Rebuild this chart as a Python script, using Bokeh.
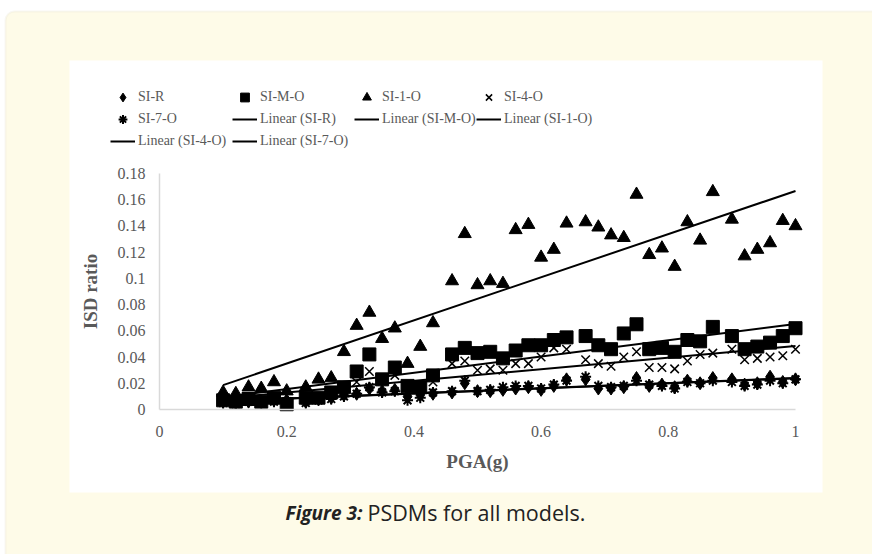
import numpy as np
from bokeh.plotting import figure
from bokeh.models import (Range1d, LinearAxis, FixedTicker, Legend, LegendItem,
                          BoxAnnotation, Label, ColumnDataSource)
from bokeh.embed import file_html
from bokeh.resources import INLINE

# ---------------- data ----------------
pga = [0.10, 0.12, 0.14, 0.16, 0.18, 0.20, 0.23, 0.25, 0.27, 0.29,
       0.31, 0.33, 0.35, 0.37, 0.39, 0.41, 0.43, 0.46, 0.48, 0.50,
       0.52, 0.54, 0.56, 0.58, 0.60, 0.62, 0.64, 0.67, 0.69, 0.71,
       0.73, 0.75, 0.77, 0.79, 0.81, 0.83, 0.85, 0.87, 0.90, 0.92,
       0.94, 0.96, 0.98, 1.00]

si_r = [0.006, 0.005, 0.006, 0.006, 0.007, 0.007, 0.006, 0.008, 0.009, 0.011,
        0.012, 0.016, 0.014, 0.015, 0.010, 0.011, 0.012, 0.013, 0.020, 0.014,
        0.014, 0.015, 0.016, 0.017, 0.015, 0.018, 0.023, 0.023, 0.016, 0.016,
        0.017, 0.024, 0.018, 0.019, 0.017, 0.022, 0.020, 0.024, 0.023, 0.019,
        0.020, 0.025, 0.021, 0.023]

si_m_o = [0.007, 0.006, 0.008, 0.006, 0.009, 0.004, 0.009, 0.009, 0.013, 0.017,
          0.029, 0.042, 0.023, 0.032, 0.018, 0.017, 0.026, 0.042, 0.047, 0.043,
          0.044, 0.039, 0.045, 0.049, 0.049, 0.053, 0.055, 0.056, 0.049, 0.046,
          0.058, 0.065, 0.046, 0.047, 0.044, 0.053, 0.052, 0.063, 0.056, 0.046,
          0.048, 0.051, 0.056, 0.062]

si_1_o = [0.013, 0.012, 0.017, 0.016, 0.021, 0.014, 0.017, 0.023, 0.024, 0.044,
          0.064, 0.074, 0.054, 0.062, 0.035, 0.048, 0.066, 0.098, 0.134, 0.095,
          0.098, 0.096, 0.137, 0.141, 0.116, 0.122, 0.142, 0.143, 0.139, 0.133,
          0.131, 0.164, 0.118, 0.123, 0.109, 0.143, 0.129, 0.166, 0.145, 0.117,
          0.122, 0.127, 0.144, 0.140]

si_4_o = [0.006, 0.005, 0.007, 0.006, 0.008, 0.006, 0.007, 0.009, 0.011, 0.014,
          0.021, 0.029, 0.022, 0.026, 0.017, 0.016, 0.021, 0.035, 0.037, 0.030,
          0.031, 0.030, 0.035, 0.035, 0.040, 0.047, 0.046, 0.038, 0.035, 0.033,
          0.040, 0.044, 0.032, 0.032, 0.031, 0.037, 0.042, 0.043, 0.046, 0.038,
          0.039, 0.040, 0.041, 0.046]

si_7_o = [0.005, 0.004, 0.006, 0.005, 0.006, 0.006, 0.005, 0.007, 0.008, 0.010,
          0.012, 0.017, 0.013, 0.014, 0.007, 0.009, 0.013, 0.014, 0.022, 0.014,
          0.015, 0.017, 0.018, 0.018, 0.016, 0.019, 0.022, 0.025, 0.018, 0.017,
          0.018, 0.022, 0.019, 0.018, 0.016, 0.021, 0.020, 0.022, 0.021, 0.018,
          0.019, 0.022, 0.020, 0.023]

series_names = ["SI-R", "SI-M-O", "SI-1-O", "SI-4-O", "SI-7-O"]
series_values = [si_r, si_m_o, si_1_o, si_4_o, si_7_o]

x_ticks = [0, 0.2, 0.4, 0.6, 0.8, 1.0]
x_tick_labels = ["0", "0.2", "0.4", "0.6", "0.8", "1"]
y_ticks = [0, 0.02, 0.04, 0.06, 0.08, 0.1, 0.12, 0.14, 0.16, 0.18]
y_tick_labels = ["0", "0.02", "0.04", "0.06", "0.08", "0.1", "0.12", "0.14", "0.16", "0.18"]

x_label = "PGA(g)"
y_label = "ISD ratio"
caption_bold = "Figure 3:"
caption_rest = "PSDMs for all models."

# ---------------- layout (pixel geometry of the page) ----------------
W, H = 872, 554
X0_PX, X1_PX = 159.0, 795.0      # pixel of x=0 and x=1
Y0_PX, Y1_PX = 409.0, 173.0      # pixel of y=0 and y=0.18
sx = (X1_PX - X0_PX) / 1.0
sy = (Y0_PX - Y1_PX) / 0.18


def px2x(px):
    return (px - X0_PX) / sx


def py2y(py):
    return (Y0_PX - py) / sy


CREAM = "#FEFBE8"
GREY = "#595959"
SERIF = "Liberation Serif"

p = figure(width=W, height=H, output_backend="svg", toolbar_location=None,
           x_range=Range1d(px2x(0), px2x(W)), y_range=Range1d(py2y(H), py2y(0)),
           x_axis_type=None, y_axis_type=None, min_border=0,
           min_border_left=0, min_border_right=0, min_border_top=0, min_border_bottom=0)
p.border_fill_color = "white"
p.background_fill_color = "white"
p.outline_line_color = None
p.grid.visible = False

# cream rounded box and white chart panel
p.add_layout(BoxAnnotation(left=px2x(5), right=px2x(W + 40), top=py2y(11), bottom=py2y(H + 40),
                           fill_color=CREAM, fill_alpha=1, line_color="#E9E6D3", line_width=2,
                           border_radius=9, level="underlay"))
p.add_layout(BoxAnnotation(left=px2x(69), right=px2x(822), top=py2y(60), bottom=py2y(492),
                           fill_color="white", fill_alpha=1, line_color=None, level="underlay"))

# axes (placed at zero, as in the original chart)
xa = LinearAxis(ticker=FixedTicker(ticks=x_ticks),
                major_label_overrides={t: l for t, l in zip(x_ticks, x_tick_labels)},
                axis_label=x_label, fixed_location=0, bounds=(0, 1))
ya = LinearAxis(ticker=FixedTicker(ticks=y_ticks),
                major_label_overrides={t: l for t, l in zip(y_ticks, y_tick_labels)},
                axis_label=y_label, fixed_location=0, bounds=(0, 0.18))
for ax in (xa, ya):
    ax.axis_line_color = "#D9D9D9"
    ax.axis_line_width = 1.5
    ax.major_tick_line_color = None
    ax.minor_tick_line_color = None
    ax.major_tick_in = 0
    ax.major_tick_out = 0
    ax.minor_tick_in = 0
    ax.minor_tick_out = 0
    ax.major_label_text_font = SERIF
    ax.major_label_text_font_size = "16px"
    ax.major_label_text_color = GREY
    ax.axis_label_text_font = SERIF
    ax.axis_label_text_font_size = "19px"
    ax.axis_label_text_font_style = "bold"
    ax.axis_label_text_color = GREY
xa.major_label_standoff = 16
xa.axis_label_standoff = 11
ya.major_label_standoff = 14
ya.axis_label_standoff = 14
p.add_layout(xa, "below")
p.add_layout(ya, "left")

# markers
marker_specs = [
    dict(marker="diamond", size=13, lw=1),
    dict(marker="square", size=13, lw=1),
    dict(marker="triangle", size=13, lw=1),
    dict(marker="x", size=12, lw=1.5),
    dict(marker="asterisk", size=11, lw=2),
]
scatter_renderers = []
line_renderers = []
for name, vals, spec in zip(series_names, series_values, marker_specs):
    src = ColumnDataSource(dict(x=pga, y=vals))
    r = p.scatter("x", "y", source=src, marker=spec["marker"], size=spec["size"],
                  fill_color="black", line_color="black", line_width=spec["lw"])
    scatter_renderers.append(r)

for name, vals in zip(series_names, series_values):
    k, b = np.polyfit(pga, vals, 1)
    xs = [min(pga), max(pga)]
    lr = p.line(xs, [k * v + b for v in xs], line_color="black", line_width=2)
    line_renderers.append(lr)

items = [LegendItem(label=n, renderers=[r]) for n, r in zip(series_names, scatter_renderers)]
items += [LegendItem(label=f"Linear ({n})", renderers=[r]) for n, r in zip(series_names, line_renderers)]
legend = Legend(items=items, location=(110, H - 152), orientation="horizontal", ncols=4,
                glyph_width=25, glyph_height=22, label_height=22, label_width=94,
                label_standoff=3, spacing=0, padding=0, margin=0,
                label_text_font=SERIF, label_text_font_size="14px",
                label_text_color=GREY, background_fill_alpha=0, border_line_color=None)
p.add_layout(legend, "center")

# caption
p.add_layout(Label(x=px2x(362), y=py2y(512), text=caption_bold, text_font="Open Sans",
                   text_font_size="19px", text_font_style="bold italic", text_color="#222222",
                   text_align="right", text_baseline="middle"))
p.add_layout(Label(x=px2x(367), y=py2y(512), text=caption_rest, text_font="Open Sans",
                   text_font_size="21.5px", text_color="#222222",
                   text_align="left", text_baseline="middle"))

open("out.html", "w").write(file_html(p, INLINE))
